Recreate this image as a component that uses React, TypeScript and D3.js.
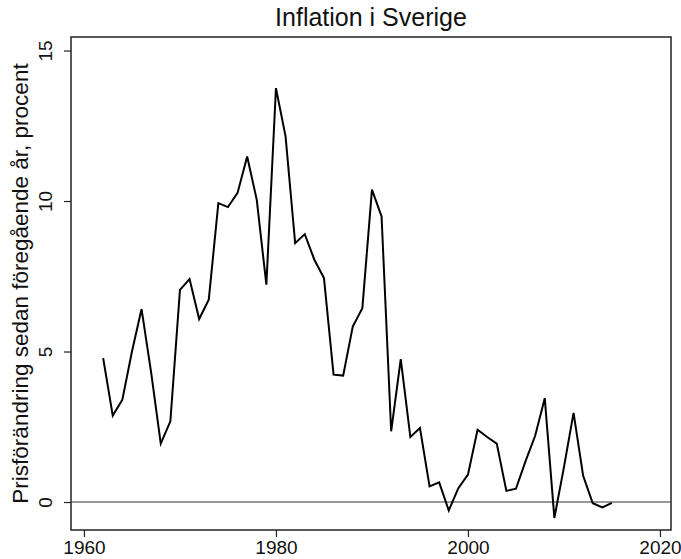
import React, { useRef, useEffect } from 'react';
import * as d3 from 'd3';

// årtal och inflation (procent)
const years = [
  1962, 1963, 1964, 1965, 1966, 1967, 1968, 1969, 1970, 1971,
  1972, 1973, 1974, 1975, 1976, 1977, 1978, 1979, 1980, 1981,
  1982, 1983, 1984, 1985, 1986, 1987, 1988, 1989, 1990, 1991,
  1992, 1993, 1994, 1995, 1996, 1997, 1998, 1999, 2000, 2001,
  2002, 2003, 2004, 2005, 2006, 2007, 2008, 2009, 2010, 2011,
  2012, 2013, 2014, 2015,
];
const inflation = [
  4.78, 2.87, 3.4, 5.0, 6.41, 4.3, 1.94, 2.68, 7.05, 7.41,
  6.08, 6.72, 9.93, 9.8, 10.27, 11.48, 10.04, 7.22, 13.75, 12.15,
  8.6, 8.9, 8.05, 7.44, 4.23, 4.2, 5.83, 6.44, 10.38, 9.49,
  2.35, 4.75, 2.16, 2.46, 0.52, 0.65, -0.28, 0.46, 0.91, 2.4,
  2.16, 1.94, 0.37, 0.44, 1.36, 2.2, 3.45, -0.53, 1.16, 2.96,
  0.87, -0.04, -0.18, -0.03,
];
const xTicks = [1960, 1980, 2000, 2020];
const yTicks = [0, 5, 10, 15];

const title = 'Inflation i Sverige';
const yLabel = 'Prisförändring sedan föregående år, procent';

export default function App() {
  const svgRef = useRef<SVGSVGElement>(null);

  useEffect(() => {
    const svg = d3.select(svgRef.current);
    const width = 681;
    const height = 559;
    const box = { left: 71, right: 671, top: 37, bottom: 530 };
    const font = '"Liberation Sans", Arial, Helvetica, sans-serif';

    svg.attr('width', width).attr('height', height);
    svg.selectAll('*').remove();

    const x = d3.scaleLinear().domain([1958.65, 2021.15]).range([box.left, box.right]);
    const y = d3.scaleLinear().domain([-0.93, 15.45]).range([box.bottom, box.top]);

    // ram runt ritytan
    svg.append('rect')
      .attr('x', box.left)
      .attr('y', box.top)
      .attr('width', box.right - box.left)
      .attr('height', box.bottom - box.top)
      .attr('fill', 'none')
      .attr('stroke', '#222')
      .attr('stroke-width', 1.5);

    // x-axel
    const xAxis = svg.append('g')
      .attr('transform', `translate(0,${box.bottom})`)
      .call(d3.axisBottom(x).tickValues(xTicks).tickFormat(d3.format('d')).tickSize(7).tickPadding(4));
    xAxis.select('.domain').remove();
    xAxis.selectAll('line').attr('stroke', '#222').attr('stroke-width', 1.2);
    xAxis.selectAll('text')
      .attr('font-family', font)
      .attr('font-size', 19)
      .attr('fill', '#111');

    // y-axel med roterade etiketter
    const yAxis = svg.append('g')
      .attr('transform', `translate(${box.left},0)`)
      .call(d3.axisLeft(y).tickValues(yTicks).tickSize(7).tickPadding(0));
    yAxis.select('.domain').remove();
    yAxis.selectAll('line').attr('stroke', '#222').attr('stroke-width', 1.2);
    yAxis.selectAll('text')
      .attr('font-family', font)
      .attr('font-size', 19)
      .attr('fill', '#111')
      .attr('x', null)
      .attr('dy', null)
      .attr('text-anchor', 'middle')
      .attr('transform', 'translate(-19,0) rotate(-90)');

    // nollinje
    svg.append('line')
      .attr('x1', box.left)
      .attr('x2', box.right)
      .attr('y1', y(0))
      .attr('y2', y(0))
      .attr('stroke', '#333')
      .attr('stroke-width', 1);

    // inflationskurvan
    const points = years.map((yr, i) => [yr, inflation[i]] as [number, number]);
    const line = d3.line<[number, number]>()
      .x(d => x(d[0]))
      .y(d => y(d[1]));
    svg.append('path')
      .datum(points)
      .attr('d', line)
      .attr('fill', 'none')
      .attr('stroke', '#000')
      .attr('stroke-width', 2)
      .attr('stroke-linejoin', 'miter');

    // rubrik
    svg.append('text')
      .attr('x', (box.left + box.right) / 2)
      .attr('y', 26)
      .attr('text-anchor', 'middle')
      .attr('font-family', font)
      .attr('font-size', 25)
      .attr('fill', '#111')
      .text(title);

    // y-axelns titel
    svg.append('text')
      .attr('transform', `translate(28,${(box.top + box.bottom) / 2}) rotate(-90)`)
      .attr('text-anchor', 'middle')
      .attr('font-family', font)
      .attr('font-size', 22.5)
      .attr('fill', '#111')
      .text(yLabel);
  }, []);

  return (
    <div style={{ position: 'absolute', left: 0, top: 0, background: '#fff' }}>
      <svg ref={svgRef} style={{ display: 'block' }}></svg>
    </div>
  );
}
